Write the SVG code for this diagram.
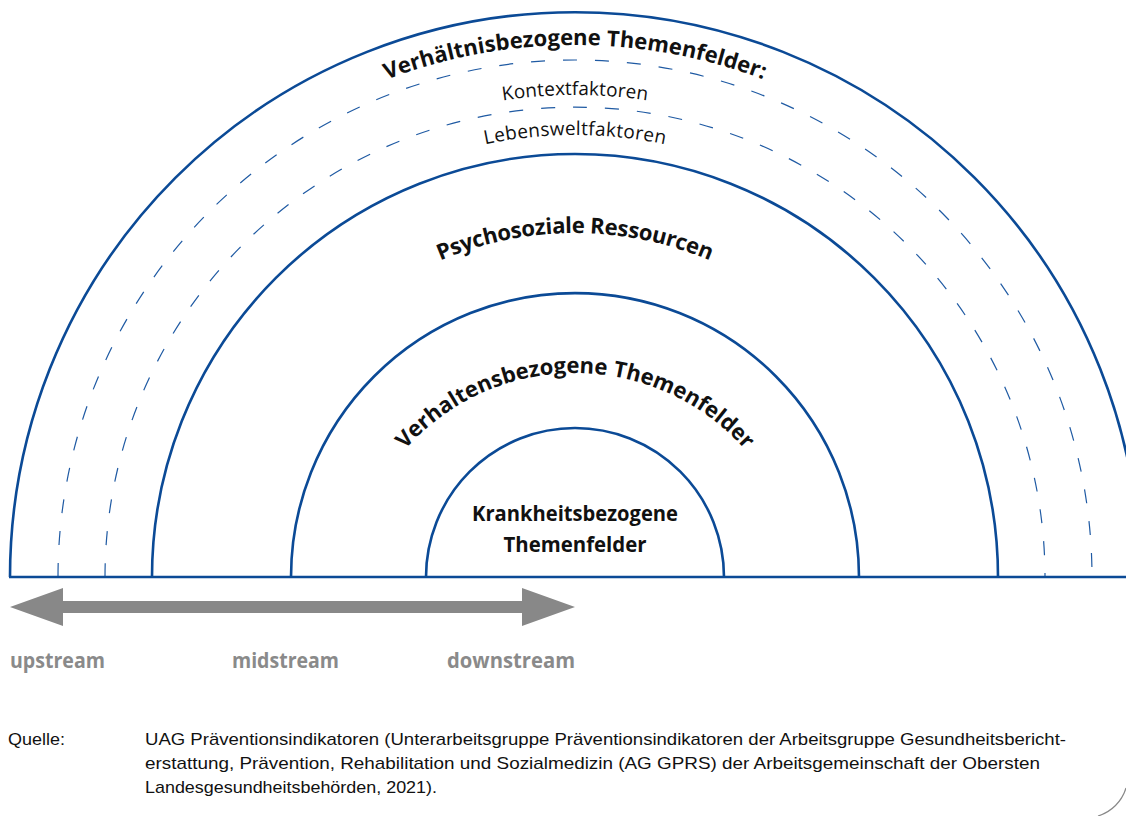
<svg xmlns="http://www.w3.org/2000/svg" width="1126" height="816" viewBox="0 0 1126 816">
<style>
.arc{fill:none;stroke:#0b4a96;stroke-width:2.6}
.dash{fill:none;stroke:#1f5aa3;stroke-width:1.2;stroke-dasharray:14 18}
.b{font-family:"Open Sans","Liberation Sans",sans-serif;font-weight:700;font-size:22px;fill:#111}
.r{font-family:"Open Sans","Liberation Sans",sans-serif;font-weight:400;font-size:19px;fill:#111}
.g{font-family:"Open Sans","Liberation Sans",sans-serif;font-weight:700;font-size:21px;fill:#8a8a8a}
.c{font-family:"Liberation Sans","Open Sans",sans-serif;font-size:17px;fill:#111}
</style>
<defs>
<path id="p1" d="M43,577 A532,532 0 0 1 1107,577"/>
<path id="p2" d="M93,577 A482,482 0 0 1 1057,577"/>
<path id="p3" d="M133,577 A442,442 0 0 1 1017,577"/>
<path id="p4" d="M231,577 A344,344 0 0 1 919,577"/>
<path id="p5" d="M348,600 A227,227 0 0 1 802,600"/>
</defs>
<rect width="1126" height="816" fill="#fff"/>
<g id="connectors">
<path class="arc" d="M10,577 A565,565 0 0 1 1140,577"/>
<path class="dash" d="M58,577 A517,517 0 0 1 1092,577"/>
<path class="dash" d="M105,577 A470,470 0 0 1 1045,577"/>
<path class="arc" d="M152,577 A423,423 0 0 1 998,577"/>
<path class="arc" d="M291,577 A284,284 0 0 1 859,577"/>
<path class="arc" d="M426,577 A149,149 0 0 1 724,577"/>
<line class="arc" x1="9" y1="577" x2="1126" y2="577"/>
<polygon fill="#888" points="10,607 63,588 63,601 522,601 522,588 575,607 522,626 522,613 63,613 63,626"/>
</g>
<g id="node-verhaeltnis"><text class="b"><textPath href="#p1" startOffset="50%" text-anchor="middle" textLength="385" lengthAdjust="spacing">Verhältnisbezogene Themenfelder:</textPath></text></g>
<g id="node-kontext"><text class="r"><textPath href="#p2" startOffset="50%" text-anchor="middle" textLength="145" lengthAdjust="spacing">Kontextfaktoren</textPath></text></g>
<g id="node-lebenswelt"><text class="r"><textPath href="#p3" startOffset="50%" text-anchor="middle" textLength="181" lengthAdjust="spacing">Lebensweltfaktoren</textPath></text></g>
<g id="node-psycho"><text class="b"><textPath href="#p4" startOffset="50%" text-anchor="middle" textLength="277" lengthAdjust="spacing">Psychosoziale Ressourcen</textPath></text></g>
<g id="node-verhalten"><text class="b"><textPath href="#p5" startOffset="50%" text-anchor="middle" textLength="384" lengthAdjust="spacing">Verhaltensbezogene Themenfelder</textPath></text></g>
<g id="node-krankheit">
<text class="b" x="575" y="521" text-anchor="middle" font-size="21" textLength="206" lengthAdjust="spacingAndGlyphs">Krankheitsbezogene</text>
<text class="b" x="575" y="552" text-anchor="middle" font-size="21" textLength="143" lengthAdjust="spacingAndGlyphs">Themenfelder</text>
</g>
<g id="labels">
<text class="g" x="10" y="668" textLength="95" lengthAdjust="spacingAndGlyphs">upstream</text>
<text class="g" x="232" y="668" textLength="107" lengthAdjust="spacingAndGlyphs">midstream</text>
<text class="g" x="447" y="668" textLength="128" lengthAdjust="spacingAndGlyphs">downstream</text>
</g>
<g id="caption">
<text class="c" x="8" y="745" textLength="57" lengthAdjust="spacingAndGlyphs">Quelle:</text>
<text class="c" x="145" y="745" textLength="921" lengthAdjust="spacingAndGlyphs">UAG Präventionsindikatoren (Unterarbeitsgruppe Präventionsindikatoren der Arbeitsgruppe Gesundheitsbericht-</text>
<text class="c" x="145" y="769" textLength="895" lengthAdjust="spacingAndGlyphs">erstattung, Prävention, Rehabilitation und Sozialmedizin (AG GPRS) der Arbeitsgemeinschaft der Obersten</text>
<text class="c" x="145" y="793" textLength="292" lengthAdjust="spacingAndGlyphs">Landesgesundheitsbehörden, 2021).</text>
</g>
<path d="M1098,816 A42,42 0 0 0 1126,788" fill="none" stroke="#888" stroke-width="1.2"/>
</svg>
